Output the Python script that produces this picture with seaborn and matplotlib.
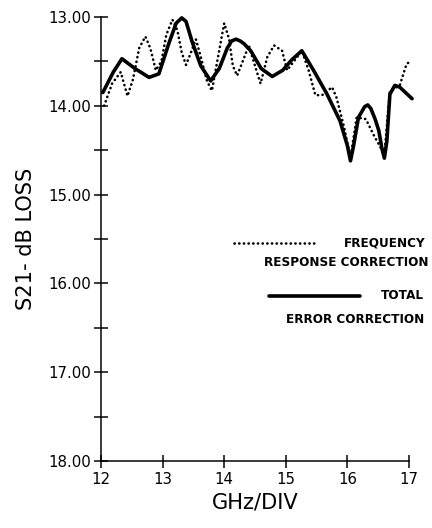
import pandas as pd
import matplotlib.pyplot as plt
import matplotlib.ticker as mticker
import seaborn as sns

sns.set_style("ticks", {"axes.edgecolor": "black", "xtick.color": "black",
                        "ytick.color": "black", "text.color": "black",
                        "axes.labelcolor": "black"})
plt.rcParams['font.family'] = ['DejaVu Sans']

# ============================================================
#  DATA
# ============================================================

freq_dotted = [12.05, 12.18, 12.32, 12.43, 12.52, 12.62, 12.72, 12.80, 12.89, 12.98,
               13.06, 13.16, 13.24, 13.31, 13.38, 13.46, 13.54, 13.62, 13.72, 13.80,
               13.90, 14.00, 14.08, 14.14, 14.21, 14.30, 14.40, 14.50, 14.59, 14.70,
               14.81, 14.94, 15.02, 15.12, 15.26, 15.37, 15.48, 15.59, 15.75, 15.82,
               15.95, 16.05, 16.15, 16.30, 16.42, 16.60, 16.69, 16.85, 16.96, 17.04]
loss_dotted = [14.00, 13.75, 13.62, 13.89, 13.70, 13.35, 13.22, 13.35, 13.60, 13.50,
               13.20, 13.03, 13.15, 13.40, 13.54, 13.40, 13.25, 13.45, 13.72, 13.83,
               13.45, 13.07, 13.25, 13.55, 13.66, 13.50, 13.32, 13.55, 13.75, 13.45,
               13.32, 13.38, 13.60, 13.51, 13.38, 13.60, 13.88, 13.88, 13.79, 13.90,
               14.25, 14.59, 14.13, 14.15, 14.32, 14.55, 13.83, 13.77, 13.53, 13.49]

freq_solid = [12.03, 12.20, 12.34, 12.55, 12.78, 12.94, 13.10, 13.22, 13.31, 13.38,
              13.48, 13.62, 13.78, 13.92, 14.05, 14.12, 14.19, 14.26, 14.32, 14.43,
              14.60, 14.78, 14.95, 15.10, 15.26, 15.45, 15.67, 15.88, 16.00, 16.05,
              16.10, 16.18, 16.28, 16.33, 16.38, 16.45, 16.51, 16.56, 16.60, 16.64,
              16.69, 16.77, 16.85, 17.05]
loss_solid = [13.85, 13.62, 13.47, 13.58, 13.68, 13.64, 13.30, 13.07, 13.01, 13.05,
              13.28, 13.55, 13.72, 13.58, 13.35, 13.27, 13.25, 13.27, 13.30, 13.38,
              13.58, 13.67, 13.60, 13.48, 13.38, 13.60, 13.87, 14.17, 14.45, 14.62,
              14.45, 14.13, 14.01, 13.99, 14.03, 14.15, 14.28, 14.48, 14.59, 14.40,
              13.87, 13.77, 13.79, 13.92]

x_ticks = [12, 13, 14, 15, 16, 17]
y_ticks = [13, 14, 15, 16, 17, 18]

df_dot = pd.DataFrame({"freq": freq_dotted, "loss": loss_dotted})
df_sol = pd.DataFrame({"freq": freq_solid, "loss": loss_solid})

DOTS = (0, (0.1, 1.7))

# ============================================================
#  PLOT
# ============================================================

fig = plt.figure(figsize=(6, 528 / 72), dpi=72)
ax = fig.add_axes([101 / 432, 1 - 461 / 528, 308 / 432, 444 / 528])

sns.lineplot(data=df_dot, x="freq", y="loss", ax=ax, color="black", lw=2.6,
             linestyle=DOTS, dash_capstyle="round", clip_on=False,
             sort=False, estimator=None)
sns.lineplot(data=df_sol, x="freq", y="loss", ax=ax, color="black", lw=3.6,
             solid_capstyle="round", solid_joinstyle="round", clip_on=False,
             sort=False, estimator=None)

ax.set_xlim(12, 17)
ax.set_ylim(18, 13)
ax.set_xticks(x_ticks)
ax.set_yticks(y_ticks)
ax.yaxis.set_minor_locator(mticker.MultipleLocator(0.5))
ax.yaxis.set_major_formatter(mticker.FormatStrFormatter("%.2f"))
ax.tick_params(axis="y", which="both", direction="inout", length=14, width=1.5,
               labelsize=15, pad=3, colors="black")
ax.tick_params(axis="x", which="both", direction="inout", length=13, width=1.5,
               labelsize=15, pad=5, colors="black")

sns.despine(ax=ax)
for side in ["left", "bottom"]:
    ax.spines[side].set_linewidth(1.5)
    ax.spines[side].set_color("black")

ax.set_xlabel("GHz/DIV", fontsize=21, labelpad=5, color="black")
ax.set_ylabel("S21- dB LOSS", fontsize=21, labelpad=12, color="black")

# legend drawn by hand, like the original
tr = ax.transAxes
ax.plot([0.432, 0.701], [0.491, 0.491], transform=tr, color="black", lw=2.6,
        linestyle=DOTS, dash_capstyle="round", clip_on=False)
ax.text(1.052, 0.491, "FREQUENCY", transform=tr, ha="right", va="center",
        fontsize=12, fontweight="bold")
ax.text(1.062, 0.447, "RESPONSE CORRECTION", transform=tr, ha="right", va="center",
        fontsize=12, fontweight="bold")
ax.plot([0.545, 0.841], [0.372, 0.372], transform=tr, color="black", lw=3.6,
        clip_on=False)
ax.text(1.049, 0.372, "TOTAL", transform=tr, ha="right", va="center",
        fontsize=12, fontweight="bold")
ax.text(1.049, 0.319, "ERROR CORRECTION", transform=tr, ha="right", va="center",
        fontsize=12, fontweight="bold")

plt.savefig("out.png", dpi=72)
